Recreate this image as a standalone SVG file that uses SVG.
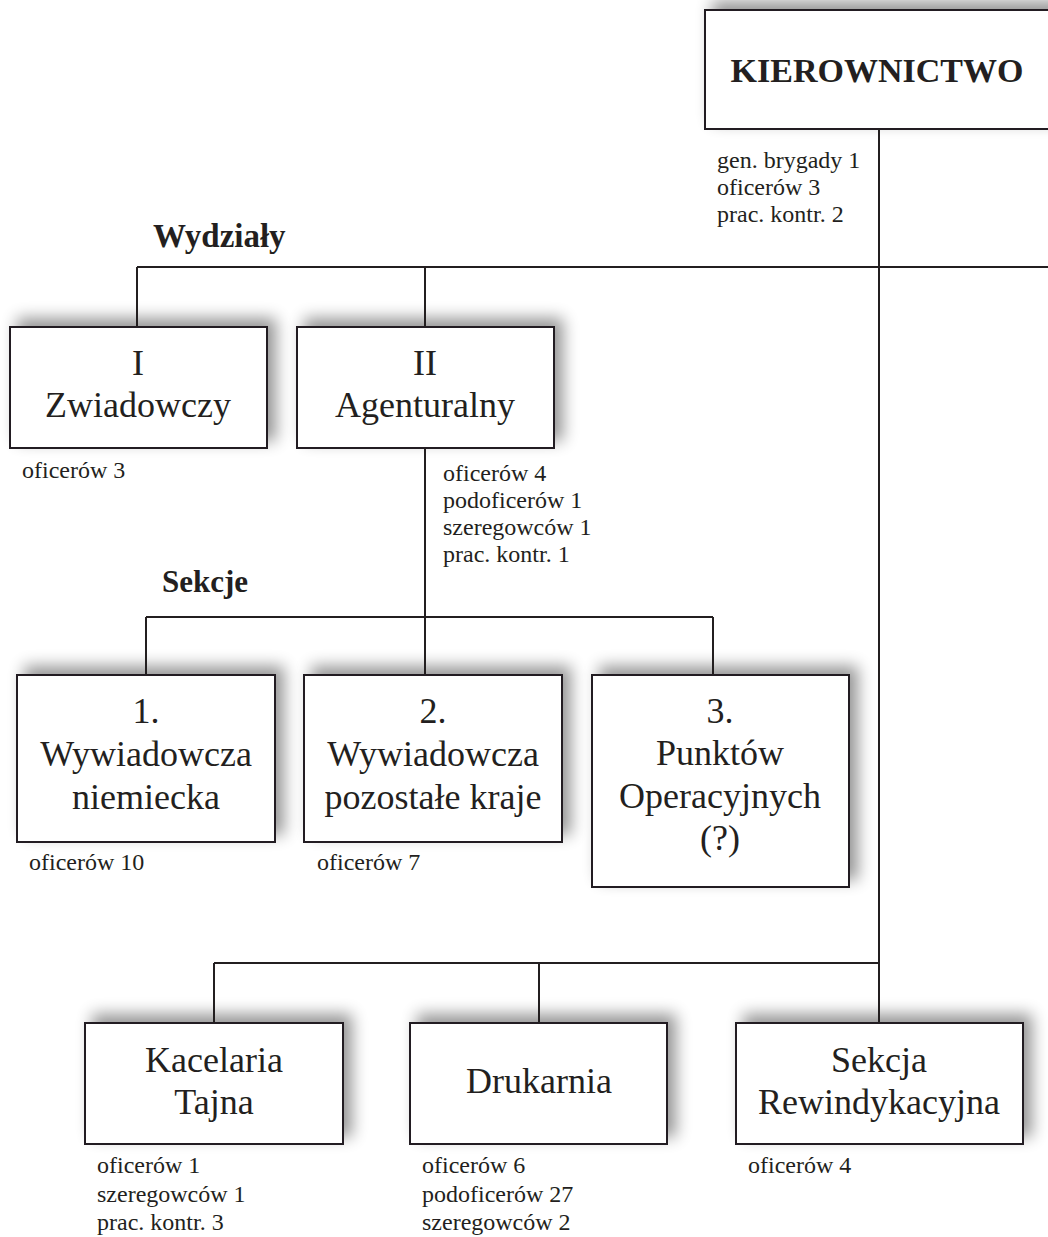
<svg xmlns="http://www.w3.org/2000/svg" width="1048" height="1237" viewBox="0 0 1048 1237">
  <style>
    .box { fill: #ffffff; stroke: #231f20; stroke-width: 2; filter: url(#shadow); }
    .line { fill: none; stroke: #231f20; stroke-width: 2; }
    .title { font-family: "Liberation Serif", "Times New Roman", serif; font-size: 36px; fill: #231f20; text-anchor: middle; }
    .head { font-family: "Liberation Serif", "Times New Roman", serif; font-size: 34px; font-weight: bold; fill: #231f20; text-anchor: middle; }
    .group { font-family: "Liberation Serif", "Times New Roman", serif; font-weight: bold; fill: #231f20; }
    .staff { font-family: "Liberation Serif", "Times New Roman", serif; font-size: 24px; fill: #231f20; }
  </style>
  <defs>
    <filter id="shadow" x="-25%" y="-50%" width="150%" height="190%">
      <feGaussianBlur in="SourceAlpha" stdDeviation="8"/>
      <feOffset dx="8" dy="-8"/>
      <feComponentTransfer><feFuncA type="linear" slope="0.42"/></feComponentTransfer>
      <feMerge><feMergeNode/><feMergeNode in="SourceGraphic"/></feMerge>
    </filter>
  </defs>

  <rect width="1048" height="1237" fill="#ffffff"/>

  <!-- Headquarters -->
  <g id="kierownictwo">
    <rect class="box" x="705" y="10" width="360" height="119"/>
    <text class="head" x="877" y="82">KIEROWNICTWO</text>
    <text class="staff"><tspan x="717" y="168">gen. brygady 1</tspan><tspan x="717" y="195">oficerów 3</tspan><tspan x="717" y="222">prac. kontr. 2</tspan></text>
  </g>

  <text class="group" x="153" y="247" font-size="33">Wydziały</text>
  <text class="group" x="162" y="592" font-size="31">Sekcje</text>

  <!-- Departments -->
  <g id="wydzial-1">
    <rect class="box" x="10" y="327" width="257" height="121"/>
    <text class="title"><tspan x="138" y="375">I</tspan><tspan x="138" y="417">Zwiadowczy</tspan></text>
    <text class="staff" x="22" y="478">oficerów 3</text>
  </g>

  <g id="wydzial-2">
    <rect class="box" x="297" y="327" width="257" height="121"/>
    <text class="title"><tspan x="425" y="375">II</tspan><tspan x="425" y="417">Agenturalny</tspan></text>
    <text class="staff"><tspan x="443" y="481">oficerów 4</tspan><tspan x="443" y="508">podoficerów 1</tspan><tspan x="443" y="535">szeregowców 1</tspan><tspan x="443" y="562">prac. kontr. 1</tspan></text>
  </g>

  <!-- Sections -->
  <g id="sekcja-1">
    <rect class="box" x="17" y="675" width="258" height="167"/>
    <text class="title"><tspan x="146" y="723">1.</tspan><tspan x="146" y="766">Wywiadowcza</tspan><tspan x="146" y="809">niemiecka</tspan></text>
    <text class="staff" x="29" y="870">oficerów 10</text>
  </g>

  <g id="sekcja-2">
    <rect class="box" x="304" y="675" width="258" height="167"/>
    <text class="title"><tspan x="433" y="723">2.</tspan><tspan x="433" y="766">Wywiadowcza</tspan><tspan x="433" y="809">pozostałe kraje</tspan></text>
    <text class="staff" x="317" y="870">oficerów 7</text>
  </g>

  <g id="sekcja-3">
    <rect class="box" x="592" y="675" width="257" height="212"/>
    <text class="title"><tspan x="720" y="723">3.</tspan><tspan x="720" y="765">Punktów</tspan><tspan x="720" y="808">Operacyjnych</tspan><tspan x="720" y="850">(?)</tspan></text>
  </g>

  <!-- Support units -->
  <g id="kancelaria">
    <rect class="box" x="85" y="1023" width="258" height="121"/>
    <text class="title"><tspan x="214" y="1072">Kacelaria</tspan><tspan x="214" y="1114">Tajna</tspan></text>
    <text class="staff"><tspan x="97" y="1173">oficerów 1</tspan><tspan x="97" y="1202">szeregowców 1</tspan><tspan x="97" y="1230">prac. kontr. 3</tspan></text>
  </g>

  <g id="drukarnia">
    <rect class="box" x="410" y="1023" width="257" height="121"/>
    <text class="title" x="539" y="1093">Drukarnia</text>
    <text class="staff"><tspan x="422" y="1173">oficerów 6</tspan><tspan x="422" y="1202">podoficerów 27</tspan><tspan x="422" y="1230">szeregowców 2</tspan></text>
  </g>

  <g id="rewindykacja">
    <rect class="box" x="736" y="1023" width="287" height="121"/>
    <text class="title"><tspan x="879" y="1072">Sekcja</tspan><tspan x="879" y="1114">Rewindykacyjna</tspan></text>
    <text class="staff" x="748" y="1173">oficerów 4</text>
  </g>

  <!-- Connectors -->
  <g id="connectors" class="line">
    <line x1="879" y1="129" x2="879" y2="1023"/>
    <line x1="137" y1="267" x2="1048" y2="267"/>
    <line x1="137" y1="267" x2="137" y2="327"/>
    <line x1="425" y1="267" x2="425" y2="327"/>
    <line x1="425" y1="448" x2="425" y2="675"/>
    <line x1="146" y1="617" x2="713" y2="617"/>
    <line x1="146" y1="617" x2="146" y2="675"/>
    <line x1="713" y1="617" x2="713" y2="675"/>
    <line x1="214" y1="963" x2="879" y2="963"/>
    <line x1="214" y1="963" x2="214" y2="1023"/>
    <line x1="539" y1="963" x2="539" y2="1023"/>
  </g>
</svg>
